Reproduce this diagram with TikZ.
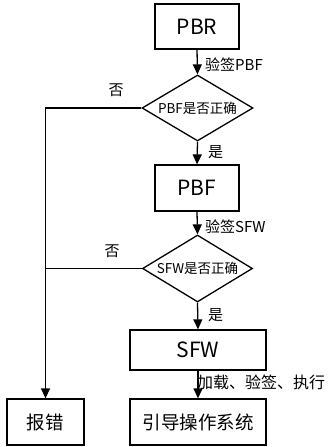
\documentclass[tikz,border=0pt]{standalone}
\usepackage{fontspec}
\setmainfont{Noto Sans CJK SC}
\usetikzlibrary{shapes.geometric,arrows.meta}
\begin{document}
\begin{tikzpicture}[x=1pt,y=-1pt,
  box/.style={draw,line width=1.3pt,inner sep=0pt,minimum width=84pt,minimum height=45pt},
  dia/.style={draw,line width=1.3pt,shape=diamond,aspect=1.68,inner sep=0pt,minimum width=111pt,minimum height=66pt,font=\fontsize{13.5}{14}\selectfont},
  lab/.style={inner sep=0pt,font=\fontsize{15}{16}\selectfont},
  conn/.style={line width=1.3pt,-{Triangle[length=10pt,width=9pt]}},
  big/.style={font=\fontsize{21}{22}\selectfont},
  mid/.style={font=\fontsize{18.5}{20}\selectfont}]
\useasboundingbox (0,0) rectangle (328,447);
\node[box,big] (pbr) at (197,26.5) {PBR};
\node[dia] (d1) at (197.5,108) {PBF是否正确};
\node[box,big,minimum height=46pt] (pbf) at (197,188) {PBF};
\node[dia,minimum width=110pt,minimum height=67pt] (d2) at (197.5,268.5) {SFW是否正确};
\node[box,big,minimum width=136pt,minimum height=40pt] (sfw) at (198,350) {SFW};
\node[box,mid,minimum width=136pt,minimum height=46pt] (boot) at (198,422) {引导操作系统};
\node[box,mid,minimum width=77pt,minimum height=46pt] (err) at (45.5,422) {报错};
\draw[conn] (pbr.south) -- (d1.north);
\draw[conn] (d1.south) -- (pbf.north);
\draw[conn] (pbf.south) -- (d2.north);
\draw[conn] (d2.south) -- (sfw.north);
\draw[conn] (sfw.south) -- (boot.north);
\draw[conn] (d1.west) -| (err.north);
\draw[line width=1.3pt] (d2.west) -- (err.north |- d2.west);
\node[lab,anchor=west] (l1) at (205,65) {验签PBF};
\node[lab,anchor=west] (l2) at (208,152) {是};
\node[lab,anchor=west] (l3) at (205,227) {验签SFW};
\node[lab,anchor=west] (l4) at (208,315) {是};
\node[lab,anchor=west,font=\fontsize{16}{17}\selectfont] (l5) at (197,382) {加载、验签、执行};
\node[lab] (n1) at (116,90) {否};
\node[lab] (n2) at (112,251) {否};
\end{tikzpicture}
\end{document}
